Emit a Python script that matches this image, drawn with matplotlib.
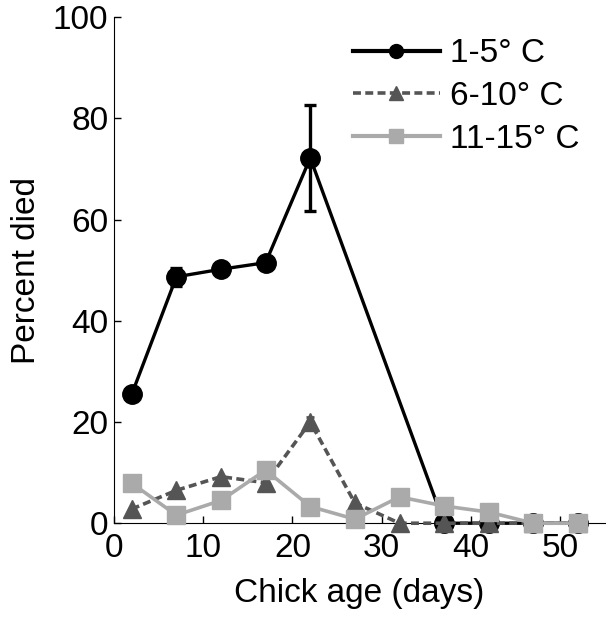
import numpy as np
import matplotlib
matplotlib.use("Agg")
import matplotlib.pyplot as plt
from matplotlib.lines import Line2D

plt.rcParams['font.family'] = ['Liberation Sans', 'DejaVu Sans']

# Chick age (days) at each sample
ages = [2, 7, 12, 17, 22, 27, 32, 37, 42, 47, 52]

# 1-5 C : no samples at 27 and 32
cold_age = [2, 7, 12, 17, 22, 37, 42, 47, 52]
cold_pct = [25.5, 48.7, 50.2, 51.5, 72.2, 0, 0, 0, 0]
cold_err = [0, 1.8, 0, 0, 10.5, 0, 0, 0, 0]

# 6-10 C
mid_pct = [2.8, 6.5, 9.2, 8.0, 20.0, 4.0, 0, 0, 0, 0, 0]
mid_err = [0, 0, 0, 0, 1.0, 0, 0, 0, 0, 0, 0]

# 11-15 C
warm_pct = [7.9, 1.6, 4.5, 10.5, 3.3, 0.8, 5.2, 3.4, 2.2, 0, 0]

black = 'black'
dgrey = '#555555'
lgrey = '#aaaaaa'

fig = plt.figure(figsize=(6.06, 6.17), dpi=100)
ax = fig.add_axes([0.188, 0.152, 0.81, 0.82])

# error bars (only where visible)
ce = np.array(cold_err)
m = ce > 0
ax.errorbar(np.array(cold_age)[m], np.array(cold_pct)[m], yerr=ce[m], fmt='none',
            ecolor=black, elinewidth=2.4, capsize=4, capthick=2.4, zorder=2)
me = np.array(mid_err)
m = me > 0
ax.errorbar(np.array(ages)[m], np.array(mid_pct)[m], yerr=me[m], fmt='none',
            ecolor=dgrey, elinewidth=2, capsize=3, capthick=2, zorder=2)

ax.plot(cold_age, cold_pct, '-o', color=black, lw=2.4, ms=14,
        zorder=3, clip_on=False)
ax.plot(ages, mid_pct, '--^', color=dgrey, lw=2.6, ms=13, dashes=(2.2, 1.2),
        zorder=4, clip_on=False)
ax.plot(ages, warm_pct, '-s', color=lgrey, lw=2.6, ms=13,
        zorder=5, clip_on=False)

ax.set_xlim(0, 55)
ax.set_ylim(0, 100)
ax.set_xticks([0, 10, 20, 30, 40, 50])
ax.set_yticks([0, 20, 40, 60, 80, 100])
ax.tick_params(direction='in', labelsize=24, length=5, width=1, pad=4)
ax.tick_params(axis='x', pad=7)
ax.spines['top'].set_visible(False)
ax.spines['right'].set_visible(False)
ax.set_xlabel('Chick age (days)', fontsize=24, labelpad=10)
ax.set_ylabel('Percent died', fontsize=24, labelpad=8)

handles = [
    Line2D([], [], color=black, lw=3, marker='o', ms=10),
    Line2D([], [], color=dgrey, lw=2.6, ls='--', dashes=(2.2, 1.2), marker='^', ms=10),
    Line2D([], [], color=lgrey, lw=3, marker='s', ms=10),
]
labels = ['1-5° C', '6-10° C', '11-15° C']
ax.legend(handles, labels, loc='upper right', frameon=False, fontsize=24,
          handlelength=2.6, handletextpad=0.3, labelspacing=0.35,
          borderaxespad=0, bbox_to_anchor=(0.975, 0.985))

fig.savefig('out.png', dpi=100)
